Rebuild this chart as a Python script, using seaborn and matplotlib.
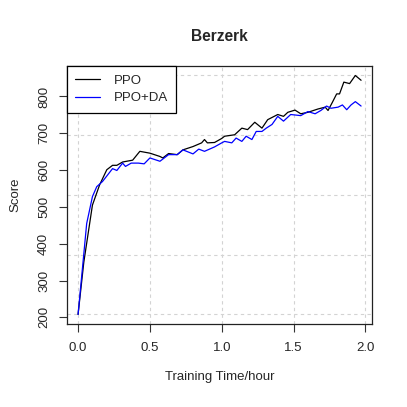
import numpy as np
import pandas as pd
import matplotlib
matplotlib.use("Agg")
import matplotlib.pyplot as plt
import seaborn as sns

# values (training time in hours, score)
ppo_hours = [0.00, 0.04, 0.10, 0.15, 0.20, 0.24, 0.27, 0.31, 0.38, 0.43,
             0.50, 0.57, 0.59, 0.63, 0.69, 0.73, 0.80, 0.86, 0.88, 0.90,
             0.95, 1.00, 1.02, 1.09, 1.14, 1.18, 1.23, 1.28, 1.32, 1.39,
             1.43, 1.46, 1.51, 1.55, 1.60, 1.67, 1.72, 1.74, 1.77, 1.80,
             1.82, 1.85, 1.89, 1.93, 1.97]
ppo_score = [208, 350, 505, 560, 601, 613, 613, 622, 627, 651,
             646, 637, 633, 645, 642, 655, 664, 674, 683, 674,
             675, 686, 692, 696, 714, 710, 730, 714, 737, 751,
             746, 757, 763, 753, 757, 766, 771, 762, 784, 807,
             807, 839, 835, 857, 844]

da_hours = [0.00, 0.06, 0.10, 0.13, 0.17, 0.24, 0.27, 0.31, 0.33, 0.37,
            0.42, 0.46, 0.50, 0.57, 0.63, 0.69, 0.73, 0.80, 0.84, 0.88,
            0.95, 1.00, 1.02, 1.07, 1.10, 1.14, 1.17, 1.21, 1.24, 1.28,
            1.31, 1.35, 1.39, 1.43, 1.48, 1.55, 1.60, 1.65, 1.69, 1.73,
            1.76, 1.81, 1.84, 1.87, 1.90, 1.93, 1.97]
da_score = [208, 455, 528, 555, 569, 604, 599, 619, 610, 619,
            619, 617, 633, 624, 642, 642, 655, 644, 657, 651,
            663, 674, 678, 674, 687, 678, 692, 683, 705, 705,
            714, 724, 746, 733, 751, 748, 759, 753, 762, 774,
            768, 771, 777, 764, 777, 786, 774]

series_names = ["PPO", "PPO+DA"]
x_ticks = [0.0, 0.5, 1.0, 1.5, 2.0]
y_ticks = [200, 300, 400, 500, 600, 700, 800]

df = pd.concat([
    pd.DataFrame({"hours": ppo_hours, "score": ppo_score, "method": series_names[0]}),
    pd.DataFrame({"hours": da_hours, "score": da_score, "method": series_names[1]}),
])

sns.set_theme(style="white")
plt.rcParams["font.family"] = ["Liberation Sans", "DejaVu Sans"]

fig = plt.figure(figsize=(4.07, 4.07), dpi=100)
ax = fig.add_axes([0.164, 0.204, 0.751, 0.634])

sns.lineplot(data=df, x="hours", y="score", hue="method", hue_order=series_names,
             palette=["black", "blue"], linewidth=0.9, ax=ax, sort=False,
             estimator=None)
ax.margins(x=0.04, y=0.04)

# R-style grid: vertical at the ticks, horizontal spread over the data range
for xv in x_ticks:
    ax.axvline(xv, color="#d3d3d3", linestyle=(0, (3, 3)), linewidth=0.8, zorder=0)
ymin, ymax = df["score"].min(), df["score"].max()
for yv in np.linspace(ymin, ymax, 5):
    ax.axhline(yv, color="#d3d3d3", linestyle=(0, (3, 3)), linewidth=0.8, zorder=0)

ax.set_xticks(x_ticks)
ax.set_xticklabels([f"{v:.1f}" for v in x_ticks])
ax.set_yticks(y_ticks)
ax.set_yticklabels([str(v) for v in y_ticks], rotation=90, va="center")
ax.tick_params(axis="both", which="both", direction="out", length=6, width=0.8,
               color="#333333", labelsize=9.5, bottom=True, left=True)
ax.tick_params(axis="x", pad=7)
ax.tick_params(axis="y", pad=6)
for s in ax.spines.values():
    s.set_color("#222222")
    s.set_linewidth(0.9)

ax.set_xlabel("Training Time/hour", fontsize=9.5, labelpad=12)
ax.set_ylabel("Score", fontsize=9.5, labelpad=12)
ax.set_title("Berzerk", fontsize=11.2, fontweight="bold", pad=18)

leg = ax.legend(loc="upper left", borderaxespad=0, fancybox=False, framealpha=1,
                edgecolor="black", fontsize=9.5, handlelength=1.9, handletextpad=1.0,
                borderpad=0.65, labelspacing=0.4)
leg.get_frame().set_linewidth(0.9)

fig.savefig("out.png", dpi=100)
